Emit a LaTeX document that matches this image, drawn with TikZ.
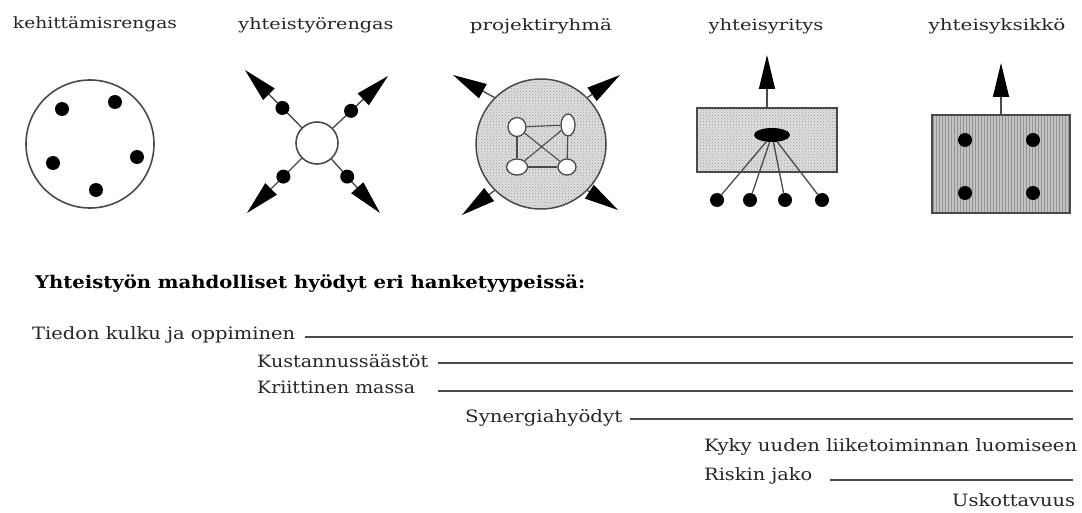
\documentclass[tikz,border=0pt]{standalone}
\usepackage{fontspec}
\setmainfont{DejaVu Serif}
\usetikzlibrary{arrows.meta,shapes.geometric,patterns,calc}
\definecolor{ln}{HTML}{4A4A4A}
\definecolor{tx}{HTML}{262626}
\newcommand{\fw}[2]{\resizebox{#1pt}{\height}{#2}}
\tikzset{
  lbl/.style={inner sep=0pt, text=tx, font=\fontsize{17}{19}\selectfont, text height=12pt, text depth=4pt},
  ttl/.style={inner sep=0pt, text=tx, font=\fontsize{15.5}{17}\selectfont, text height=11pt, text depth=4pt},
  dot/.style={circle, fill=black, inner sep=0pt, minimum size=14pt},
  arr/.style={draw=ln, line width=1.4pt, -{Triangle[length=34pt,width=16pt,color=black]}},
  con/.style={draw=ln, line width=1.3pt},
  rule/.style={draw=ln, line width=1.8pt},
  dotted fill/.style={preaction={fill=gray!25}, pattern=crosshatch dots, pattern color=gray!80},
  striped fill/.style={preaction={fill=gray!48}, pattern=vertical lines, pattern color=gray!85},
}
\begin{document}
\begin{tikzpicture}[x=1pt,y=-1pt]
\useasboundingbox[fill=white] (0,0) rectangle (1082,513);

% titles
\node[ttl] (h1) at (95,25) {\fw{164}{kehittämisrengas}};
\node[ttl] (h2) at (316,26) {\fw{155}{yhteistyörengas}};
\node[ttl] (h3) at (541,27) {\fw{142}{projektiryhmä}};
\node[ttl] (h4) at (766,27) {\fw{115}{yhteisyritys}};
\node[ttl] (h5) at (997,27) {\fw{137}{yhteisyksikkö}};

% 1 kehittamisrengas
\node[circle, draw=ln, line width=1.6pt, minimum size=128pt, inner sep=0pt] (c1) at (90,144) {};
\node[dot] (d1a) at (62,109) {};
\node[dot] (d1b) at (115,102) {};
\node[dot] (d1c) at (137,157) {};
\node[dot] (d1d) at (96,190) {};
\node[dot] (d1e) at (53,163) {};

% 2 yhteistyorengas
\node[circle, draw=ln, line width=1.6pt, minimum size=42pt, inner sep=0pt] (c2) at (317,143) {};
\coordinate (t2a) at (245,70);
\coordinate (t2b) at (388,76);
\coordinate (t2c) at (247,213);
\coordinate (t2d) at (380,213);
\draw[arr] (c2) -- (t2a);
\draw[arr] (c2) -- (t2b);
\draw[arr] (c2) -- (t2c);
\draw[arr] (c2) -- (t2d);
\node[dot] (d2a) at ($(c2)!0.48!(t2a)$) {};
\node[dot] (d2b) at ($(c2)!0.48!(t2b)$) {};
\node[dot] (d2c) at ($(c2)!0.48!(t2c)$) {};
\node[dot] (d2d) at ($(c2)!0.48!(t2d)$) {};

% 3 projektiryhma
\node[circle, draw=ln, line width=1.5pt, minimum size=130pt, inner sep=0pt, dotted fill] (c3) at (541,144) {};
\coordinate (t3a) at (453,75);
\coordinate (t3b) at (620,75);
\coordinate (t3c) at (462,215);
\coordinate (t3d) at (618,210);
\draw[arr] (c3.north west) -- (t3a);
\draw[arr] (c3.north east) -- (t3b);
\draw[arr] (c3.south west) -- (t3c);
\draw[arr] (c3.south east) -- (t3d);
\node[ellipse, draw=ln, fill=white, line width=1.3pt, minimum width=18pt, minimum height=19pt, inner sep=0pt] (e3a) at (517,127) {};
\node[ellipse, draw=ln, fill=white, line width=1.3pt, minimum width=14pt, minimum height=22pt, inner sep=0pt] (e3b) at (568,125) {};
\node[ellipse, draw=ln, fill=white, line width=1.3pt, minimum width=21pt, minimum height=16pt, inner sep=0pt] (e3c) at (517,167) {};
\node[ellipse, draw=ln, fill=white, line width=1.3pt, minimum width=18pt, minimum height=16pt, inner sep=0pt] (e3d) at (567,167) {};
\draw[con, line width=1.1pt] (e3a) -- (e3b);
\draw[con, line width=1.1pt] (e3a) -- (e3c);
\draw[con, line width=1.1pt] (e3b) -- (e3d);
\draw[con, line width=1.1pt] (e3c) -- (e3d);
\draw[con, line width=1.1pt] (e3a) -- (e3d);
\draw[con, line width=1.1pt] (e3b) -- (e3c);

% 4 yhteisyritys
\node[rectangle, draw=ln, line width=1.6pt, minimum width=140pt, minimum height=64pt, inner sep=0pt, dotted fill] (r4) at (767,140) {};
\coordinate (t4) at (767,55);
\draw[arr] (r4.north) -- (t4);
\node[ellipse, fill=black, minimum width=36pt, minimum height=14pt, inner sep=0pt] (e4) at (772,135) {};
\node[dot] (d4a) at (717,200) {};
\node[dot] (d4b) at (750,200) {};
\node[dot] (d4c) at (785,200) {};
\node[dot] (d4d) at (822,200) {};
\draw[con] (e4) -- (d4a);
\draw[con] (e4) -- (d4b);
\draw[con] (e4) -- (d4c);
\draw[con] (e4) -- (d4d);

% 5 yhteisyksikko
\node[rectangle, draw=ln, line width=1.6pt, minimum width=138pt, minimum height=98pt, inner sep=0pt, striped fill] (r5) at (1001,164) {};
\coordinate (t5) at (1001,63);
\draw[arr] (r5.north) -- (t5);
\node[dot] (d5a) at (965,140) {};
\node[dot] (d5b) at (1033,140) {};
\node[dot] (d5c) at (965,193) {};
\node[dot] (d5d) at (1033,193) {};

% heading
\node[inner sep=0pt, anchor=west, font=\bfseries\fontsize{17.5}{19}\selectfont, text height=12pt, text depth=4pt] (hd) at (35,284) {\fw{550}{Yhteistyön mahdolliset hyödyt eri hanketyypeissä:}};

% benefits
\node[lbl, anchor=west] (b1) at (32,335) {\fw{263}{Tiedon kulku ja oppiminen}};
\coordinate (e1) at (1073,337);
\draw[rule] ($(b1.east)+(10,2)$) coordinate (s1) -- (e1);

\node[lbl, anchor=west] (b2) at (257,363) {\fw{171}{Kustannussäästöt}};
\coordinate (e2) at (1073,363);
\draw[rule] ($(b2.east)+(10,0)$) coordinate (s2) -- (e2);

\node[lbl, anchor=west] (b3) at (257,389) {\fw{158}{Kriittinen massa}};
\coordinate (e3) at (1073,391);
\draw[rule] ($(b3.east)+(23,2)$) coordinate (s3) -- (e3);

\node[lbl, anchor=west] (b4) at (465,418) {\fw{157}{Synergiahyödyt}};
\coordinate (e4l) at (1073,419);
\draw[rule] ($(b4.east)+(8,1)$) coordinate (s4) -- (e4l);

\node[lbl, anchor=west] (b5) at (704,447) {\fw{373}{Kyky uuden liiketoiminnan luomiseen}};

\node[lbl, anchor=west] (b6) at (704,476) {\fw{108}{Riskin jako}};
\coordinate (e6) at (1073,480);
\draw[rule] ($(b6.east)+(18,4)$) coordinate (s6) -- (e6);

\node[lbl, anchor=west] (b7) at (952,502) {\fw{123}{Uskottavuus}};
\end{tikzpicture}
\end{document}
